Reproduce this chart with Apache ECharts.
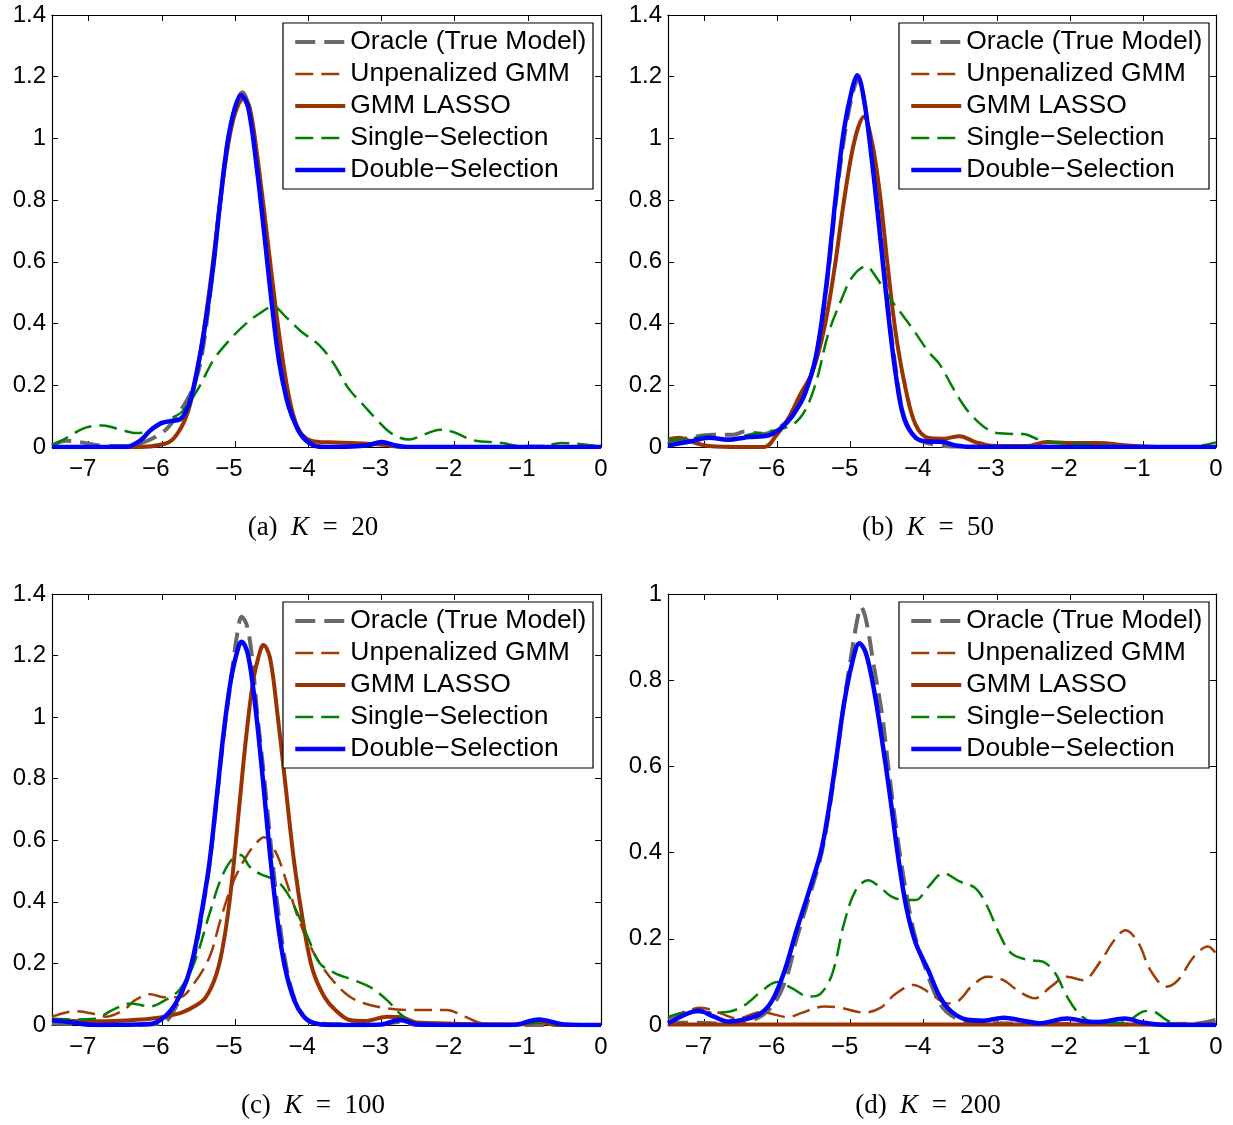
<!DOCTYPE html>
<html>
<head>
<meta charset="utf-8">
<script src="https://cdn.jsdelivr.net/npm/echarts@6/dist/echarts.min.js"></script>
<style>
html,body{margin:0;padding:0;background:#fff;}
#c{width:1233px;height:1125px;}
</style>
</head>
<body>
<div id="c"></div>
<script>
// ---------- DATA ----------
const seriesNames = ['Oracle (True Model)', 'Unpenalized GMM', 'GMM LASSO', 'Single\u2212Selection', 'Double\u2212Selection'];
const captionLetters = ['(a)', '(b)', '(c)', '(d)'];
const captionK = ['20', '50', '100', '200'];
const yMax = [1.4, 1.4, 1.4, 1];
const xMin = -7.5, xMax = 0;

// Panel (a) K = 20
const a_oracle = [[-7.5,0.005],[-7.3,0.02],[-7.1,0.015],[-6.8,0.004],[-6.5,0.003],[-6.2,0.02],[-5.95,0.055],[-5.8,0.1],[-5.66,0.15],[-5.56,0.2],[-5.45,0.3],[-5.3,0.58],[-5.2,0.8],[-5.1,0.99],[-5.0,1.1],[-4.9,1.15],[-4.82,1.11],[-4.7,0.92],[-4.6,0.71],[-4.5,0.49],[-4.4,0.3],[-4.25,0.12],[-4.1,0.04],[-3.95,0.008],[-3.7,0],[-3.0,0.01],[-2.7,0],[0,0]];
const a_unpen = [[-7.5,0],[-6.3,0],[-6.0,0.008],[-5.85,0.026],[-5.7,0.08],[-5.6,0.15],[-5.5,0.27],[-5.4,0.42],[-5.3,0.6],[-5.2,0.8],[-5.1,0.97],[-5.0,1.08],[-4.88,1.13],[-4.8,1.1],[-4.7,0.95],[-4.6,0.76],[-4.5,0.56],[-4.4,0.37],[-4.3,0.21],[-4.2,0.1],[-4.1,0.045],[-3.95,0.02],[-3.7,0.015],[-3.4,0.013],[-3.0,0.008],[-2.7,0],[0,0]];
const a_lasso = [[-7.5,0],[-6.3,0],[-6.0,0.008],[-5.85,0.025],[-5.7,0.08],[-5.6,0.15],[-5.5,0.27],[-5.4,0.42],[-5.3,0.6],[-5.2,0.8],[-5.1,0.97],[-5.0,1.08],[-4.88,1.13],[-4.8,1.1],[-4.7,0.95],[-4.6,0.76],[-4.5,0.56],[-4.4,0.37],[-4.3,0.21],[-4.2,0.1],[-4.1,0.045],[-3.95,0.02],[-3.7,0.015],[-3.4,0.013],[-3.0,0.008],[-2.7,0],[0,0]];
const a_single = [[-7.5,0.005],[-7.3,0.03],[-7.05,0.062],[-6.8,0.07],[-6.55,0.055],[-6.34,0.045],[-6.15,0.055],[-5.9,0.09],[-5.72,0.115],[-5.5,0.19],[-5.3,0.28],[-5.1,0.34],[-4.85,0.4],[-4.65,0.435],[-4.48,0.456],[-4.3,0.42],[-4.1,0.375],[-3.85,0.33],[-3.65,0.27],[-3.45,0.19],[-3.25,0.137],[-3.05,0.085],[-2.85,0.042],[-2.62,0.024],[-2.42,0.04],[-2.2,0.056],[-2.0,0.047],[-1.75,0.022],[-1.35,0.013],[-1.1,0.003],[-0.8,0.003],[-0.55,0.013],[-0.3,0.01],[0,0.002]];
const a_double = [[-7.5,0],[-6.5,0],[-6.3,0.02],[-6.15,0.055],[-6.0,0.078],[-5.85,0.085],[-5.75,0.09],[-5.68,0.11],[-5.6,0.16],[-5.5,0.27],[-5.43,0.36],[-5.3,0.58],[-5.2,0.8],[-5.1,0.99],[-5.0,1.1],[-4.92,1.14],[-4.82,1.1],[-4.7,0.9],[-4.6,0.69],[-4.5,0.47],[-4.4,0.28],[-4.3,0.16],[-4.22,0.1],[-4.1,0.04],[-3.95,0.008],[-3.8,0],[-3.2,0.005],[-3.0,0.016],[-2.8,0.005],[-2.6,0],[0,0]];

// Panel (b) K = 50
const b_oracle = [[-7.5,0.01],[-7.2,0.03],[-6.9,0.04],[-6.6,0.04],[-6.45,0.05],[-6.2,0.042],[-6.0,0.06],[-5.8,0.1],[-5.63,0.17],[-5.47,0.3],[-5.33,0.52],[-5.2,0.8],[-5.09,1.0],[-4.98,1.14],[-4.9,1.19],[-4.82,1.13],[-4.71,0.94],[-4.6,0.71],[-4.49,0.46],[-4.38,0.25],[-4.27,0.1],[-4.11,0.03],[-3.9,0.01],[-3.6,0.002],[0,0]];
const b_unpen = [[-7.5,0.024],[-7.35,0.03],[-7.15,0.016],[-6.94,0.003],[-6.5,0],[-6.18,0],[-6.01,0.04],[-5.85,0.094],[-5.69,0.17],[-5.52,0.245],[-5.36,0.386],[-5.22,0.58],[-5.09,0.8],[-4.95,0.99],[-4.82,1.07],[-4.71,0.99],[-4.6,0.82],[-4.49,0.58],[-4.38,0.364],[-4.24,0.18],[-4.11,0.072],[-3.94,0.03],[-3.73,0.027],[-3.51,0.035],[-3.29,0.016],[-3.07,0.004],[-2.6,0.003],[-2.31,0.016],[-2.04,0.013],[-1.6,0.013],[-1.22,0.005],[-0.68,0],[0,0]];
const b_lasso = [[-7.5,0.025],[-7.35,0.03],[-7.15,0.015],[-6.94,0.003],[-6.5,0],[-6.18,0],[-6.01,0.04],[-5.85,0.094],[-5.69,0.17],[-5.52,0.245],[-5.36,0.386],[-5.22,0.58],[-5.09,0.8],[-4.95,0.99],[-4.82,1.07],[-4.71,0.99],[-4.6,0.82],[-4.49,0.58],[-4.38,0.364],[-4.24,0.18],[-4.11,0.072],[-3.94,0.03],[-3.73,0.027],[-3.51,0.035],[-3.29,0.016],[-3.07,0.004],[-2.6,0.003],[-2.31,0.016],[-2.04,0.013],[-1.6,0.013],[-1.22,0.005],[-0.68,0],[0,0]];
const b_single = [[-7.5,0.02],[-7.2,0.028],[-6.94,0.035],[-6.67,0.02],[-6.4,0.04],[-6.12,0.05],[-5.8,0.072],[-5.63,0.116],[-5.47,0.213],[-5.31,0.364],[-5.14,0.47],[-4.98,0.55],[-4.79,0.586],[-4.65,0.55],[-4.49,0.49],[-4.33,0.44],[-4.16,0.386],[-3.94,0.31],[-3.78,0.267],[-3.62,0.2],[-3.46,0.137],[-3.29,0.089],[-3.07,0.05],[-2.86,0.043],[-2.64,0.042],[-2.42,0.024],[-2.2,0.015],[-1.77,0.008],[-1.22,0.002],[-0.57,0],[-0.2,0.005],[0,0.015]];
const b_double = [[-7.5,0.005],[-7.2,0.018],[-6.94,0.03],[-6.67,0.024],[-6.4,0.032],[-6.12,0.038],[-5.96,0.06],[-5.8,0.1],[-5.63,0.17],[-5.47,0.3],[-5.33,0.53],[-5.2,0.82],[-5.09,1.03],[-4.98,1.16],[-4.91,1.205],[-4.82,1.13],[-4.71,0.93],[-4.6,0.69],[-4.49,0.44],[-4.38,0.23],[-4.27,0.094],[-4.11,0.03],[-3.94,0.018],[-3.73,0.016],[-3.56,0.005],[-3.3,0],[0,0]];

// Panel (c) K = 100
const c_oracle = [[-7.5,0.005],[-7.0,0.002],[-6.5,0],[-6.0,0.005],[-5.85,0.04],[-5.7,0.12],[-5.56,0.22],[-5.46,0.35],[-5.35,0.52],[-5.25,0.73],[-5.15,0.95],[-5.05,1.13],[-4.97,1.27],[-4.91,1.326],[-4.84,1.3],[-4.77,1.2],[-4.7,1.02],[-4.6,0.8],[-4.5,0.56],[-4.4,0.35],[-4.3,0.19],[-4.18,0.08],[-4.05,0.025],[-3.9,0.005],[-3.0,0.002],[-2.75,0.01],[-2.5,0],[0,0]];
const c_unpen = [[-7.5,0.027],[-7.18,0.045],[-6.9,0.035],[-6.77,0.027],[-6.52,0.049],[-6.37,0.08],[-6.16,0.1],[-5.96,0.09],[-5.76,0.09],[-5.56,0.135],[-5.35,0.22],[-5.2,0.34],[-5.05,0.45],[-4.9,0.525],[-4.75,0.58],[-4.6,0.61],[-4.44,0.56],[-4.29,0.46],[-4.14,0.35],[-3.99,0.265],[-3.84,0.2],[-3.63,0.135],[-3.43,0.092],[-3.23,0.07],[-2.92,0.054],[-2.62,0.049],[-2.11,0.049],[-1.86,0.027],[-1.61,0.005],[-1.2,0],[-0.85,0.01],[-0.5,0],[0,0]];
const c_lasso = [[-7.5,0.016],[-7.0,0.012],[-6.5,0.015],[-6.16,0.02],[-5.76,0.038],[-5.56,0.06],[-5.4,0.09],[-5.25,0.168],[-5.15,0.276],[-5.05,0.45],[-4.95,0.69],[-4.85,0.93],[-4.75,1.12],[-4.65,1.22],[-4.61,1.234],[-4.52,1.19],[-4.42,1.01],[-4.32,0.8],[-4.19,0.525],[-4.06,0.32],[-3.94,0.18],[-3.78,0.092],[-3.63,0.049],[-3.43,0.016],[-3.23,0.013],[-2.92,0.027],[-2.72,0.025],[-2.52,0.008],[-1.1,0.002],[-0.85,0.01],[-0.6,0],[0,0]];
const c_single = [[-7.5,0.02],[-7.18,0.018],[-6.92,0.02],[-6.67,0.049],[-6.42,0.07],[-6.16,0.06],[-5.96,0.08],[-5.76,0.114],[-5.56,0.2],[-5.35,0.36],[-5.2,0.47],[-5.05,0.536],[-4.92,0.552],[-4.8,0.514],[-4.65,0.49],[-4.44,0.47],[-4.29,0.43],[-4.14,0.36],[-3.99,0.276],[-3.84,0.2],[-3.63,0.168],[-3.38,0.146],[-3.13,0.12],[-2.92,0.08],[-2.72,0.032],[-2.52,0.005],[-1.2,0],[-0.85,0.01],[-0.5,0],[0,0]];
const c_double = [[-7.5,0.015],[-7.28,0.01],[-6.92,0],[-6.16,0.003],[-5.96,0.027],[-5.81,0.07],[-5.66,0.146],[-5.56,0.233],[-5.46,0.36],[-5.35,0.525],[-5.25,0.74],[-5.15,0.96],[-5.05,1.13],[-4.95,1.23],[-4.91,1.245],[-4.82,1.2],[-4.72,1.03],[-4.62,0.8],[-4.52,0.55],[-4.42,0.34],[-4.32,0.19],[-4.19,0.08],[-4.06,0.027],[-3.94,0.008],[-3.7,0],[-3.0,0.002],[-2.75,0.016],[-2.5,0.002],[-1.2,0],[-0.85,0.018],[-0.5,0.002],[0,0]];

// Panel (d) K = 200
const d_oracle = [[-7.5,0.005],[-7.1,0.005],[-6.7,0.003],[-6.4,0.008],[-6.12,0.035],[-5.9,0.1],[-5.74,0.2],[-5.58,0.29],[-5.41,0.39],[-5.31,0.48],[-5.2,0.61],[-5.09,0.75],[-4.98,0.87],[-4.91,0.94],[-4.86,0.97],[-4.79,0.94],[-4.68,0.83],[-4.57,0.72],[-4.49,0.607],[-4.38,0.46],[-4.27,0.336],[-4.14,0.22],[-4.0,0.143],[-3.78,0.05],[-3.6,0.02],[-3.3,0.005],[-1.0,0.002],[-0.3,0.003],[0,0.012]];
const d_unpen = [[-7.5,0.015],[-7.27,0.031],[-7.05,0.04],[-6.78,0.027],[-6.56,0.015],[-6.23,0.03],[-5.85,0.018],[-5.69,0.027],[-5.36,0.043],[-5.14,0.04],[-4.82,0.029],[-4.6,0.039],[-4.38,0.073],[-4.14,0.093],[-3.94,0.077],[-3.67,0.05],[-3.51,0.058],[-3.35,0.089],[-3.13,0.112],[-2.91,0.104],[-2.69,0.077],[-2.48,0.062],[-2.26,0.089],[-2.04,0.112],[-1.82,0.104],[-1.6,0.143],[-1.39,0.197],[-1.24,0.22],[-1.06,0.19],[-0.9,0.128],[-0.68,0.089],[-0.52,0.104],[-0.3,0.159],[-0.11,0.182],[0,0.166]];
const d_lasso = [[-7.5,0.001],[-5,0.001],[-2.5,0.001],[0,0.001]];
const d_single = [[-7.5,0.019],[-7.21,0.03],[-6.94,0.029],[-6.67,0.031],[-6.45,0.046],[-6.23,0.077],[-6.01,0.1],[-5.8,0.085],[-5.58,0.066],[-5.41,0.073],[-5.25,0.12],[-5.09,0.236],[-4.93,0.313],[-4.76,0.336],[-4.6,0.32],[-4.44,0.298],[-4.27,0.29],[-4.11,0.29],[-3.94,0.32],[-3.73,0.352],[-3.51,0.333],[-3.29,0.317],[-3.13,0.275],[-2.97,0.213],[-2.8,0.166],[-2.58,0.151],[-2.37,0.147],[-2.2,0.12],[-2.04,0.066],[-1.88,0.027],[-1.71,0.008],[-1.44,0.004],[-1.22,0.008],[-1.0,0.031],[-0.89,0.033],[-0.68,0.012],[-0.52,0],[0,0]];
const d_double = [[-7.5,0.004],[-7.32,0.02],[-7.08,0.033],[-6.88,0.02],[-6.67,0.008],[-6.45,0.013],[-6.23,0.027],[-6.07,0.058],[-5.9,0.128],[-5.74,0.22],[-5.58,0.305],[-5.41,0.4],[-5.31,0.49],[-5.2,0.615],[-5.09,0.746],[-4.98,0.84],[-4.88,0.886],[-4.79,0.862],[-4.68,0.777],[-4.57,0.66],[-4.46,0.53],[-4.35,0.39],[-4.24,0.275],[-4.11,0.19],[-3.94,0.128],[-3.78,0.066],[-3.62,0.031],[-3.4,0.012],[-3.18,0.01],[-2.91,0.017],[-2.64,0.01],[-2.42,0.004],[-2.04,0.015],[-1.77,0.008],[-1.6,0.007],[-1.25,0.015],[-1.01,0.006],[-0.68,0],[0,0]];

const panelData = [
  [a_oracle, a_unpen, a_lasso, a_single, a_double],
  [b_oracle, b_unpen, b_lasso, b_single, b_double],
  [c_oracle, c_unpen, c_lasso, c_single, c_double],
  [d_oracle, d_unpen, d_lasso, d_single, d_double]
];

// ---------- STYLE / LAYOUT ----------
const FONT = 'Liberation Sans';
const SERIF = 'Liberation Serif';
const seriesStyles = [
  {color: '#686868', width: 4, type: [20, 9]},
  {color: '#a03c06', width: 2.5, type: [18, 8]},
  {color: '#9a3300', width: 4, type: 'solid'},
  {color: '#008000', width: 2.5, type: [18, 8]},
  {color: '#0000ff', width: 4.5, type: 'solid'}
];
const grids = [
  {left: 52, top: 15, width: 549, height: 432},
  {left: 668, top: 15, width: 548, height: 432},
  {left: 52, top: 594, width: 549, height: 431},
  {left: 668, top: 594, width: 548, height: 431}
];
const legendBoxes = [
  {x: 283, y: 23}, {x: 899, y: 23}, {x: 283, y: 602}, {x: 899, y: 602}
];
const captionPos = [[313, 528], [928, 528], [313, 1106], [928, 1106]];

function xFmt(v) {
  if (Math.abs(v - Math.round(v)) > 1e-6) return '';
  if (v < 0) return '{n|\u2212' + Math.abs(Math.round(v)) + '}';
  return '{z|0}';
}
const tickStyle = {show: true, inside: true, length: 6, lineStyle: {color: '#000', width: 1}};
const lineStyleAxis = {show: true, onZero: false, lineStyle: {color: '#000', width: 1.2}};

const xAxes = [], yAxes = [], series = [], legends = [], graphics = [];
grids.forEach((g, i) => {
  xAxes.push({
    gridIndex: i, type: 'value', min: xMin, max: xMax, splitNumber: 8, position: 'bottom',
    axisLine: lineStyleAxis, axisTick: tickStyle, splitLine: {show: false},
    axisLabel: {
      formatter: xFmt, margin: 10, showMinLabel: false,
      rich: {
        n: {fontSize: 24, fontFamily: FONT, color: '#000', padding: [0, 12, 0, 0]},
        z: {fontSize: 24, fontFamily: FONT, color: '#000'}
      }
    }
  });
  xAxes.push({
    gridIndex: i, type: 'value', min: xMin, max: xMax, splitNumber: 8, position: 'top',
    axisLine: lineStyleAxis, axisTick: tickStyle, splitLine: {show: false},
    axisLabel: {show: false}
  });
  yAxes.push({
    gridIndex: i, type: 'value', min: 0, max: yMax[i], interval: 0.2, position: 'left',
    axisLine: lineStyleAxis, axisTick: tickStyle, splitLine: {show: false},
    axisLabel: {fontSize: 24, fontFamily: FONT, color: '#000', margin: 6}
  });
  yAxes.push({
    gridIndex: i, type: 'value', min: 0, max: yMax[i], interval: 0.2, position: 'right',
    axisLine: lineStyleAxis, axisTick: tickStyle, splitLine: {show: false},
    axisLabel: {show: false}
  });
  panelData[i].forEach((arr, k) => {
    const st = seriesStyles[k];
    series.push({
      name: seriesNames[k], type: 'line', xAxisIndex: 2 * i, yAxisIndex: 2 * i,
      data: arr, smooth: 0.35, symbol: 'none', showSymbol: false, animation: false,
      color: st.color,
      lineStyle: {color: st.color, width: st.width, type: st.type, cap: 'butt', join: 'round'},
      z: 2 + k * 0.01
    });
  });
  const lb = legendBoxes[i];
  graphics.push({
    type: 'rect', z: 3, silent: true,
    shape: {x: lb.x, y: lb.y, width: 310, height: 166},
    style: {fill: '#fff', stroke: '#000', lineWidth: 1.2}
  });
  legends.push({
    left: lb.x + 10, top: lb.y + 3, orient: 'vertical', padding: 0,
    itemWidth: 50, itemHeight: 12, itemGap: 0, selectedMode: false, z: 5,
    itemStyle: {opacity: 0},
    textStyle: {fontSize: 26.5, fontFamily: FONT, color: '#000', lineHeight: 32},
    data: seriesNames.map((nm, k) => ({
      name: nm,
      itemStyle: {opacity: 0},
      lineStyle: {color: seriesStyles[k].color, width: seriesStyles[k].width, type: seriesStyles[k].type, cap: 'butt'}
    }))
  });
  const cp = captionPos[i];
  graphics.push({
    type: 'text', x: cp[0], y: cp[1], silent: true,
    style: {
      text: '{n|' + captionLetters[i] + '\u2002}{i|K}{n|\u2002=\u2002' + captionK[i] + '}',
      align: 'center', verticalAlign: 'middle',
      rich: {
        n: {fontFamily: SERIF, fontSize: 27, fill: '#000', color: '#000'},
        i: {fontFamily: SERIF, fontSize: 27, fontStyle: 'italic', fill: '#000', color: '#000'}
      }
    }
  });
});

const chart = echarts.init(document.getElementById('c'), null, {renderer: 'canvas'});
chart.setOption({
  animation: false,
  backgroundColor: '#fff',
  grid: grids,
  xAxis: xAxes,
  yAxis: yAxes,
  legend: legends,
  series: series,
  graphic: graphics
});
</script>
</body>
</html>
